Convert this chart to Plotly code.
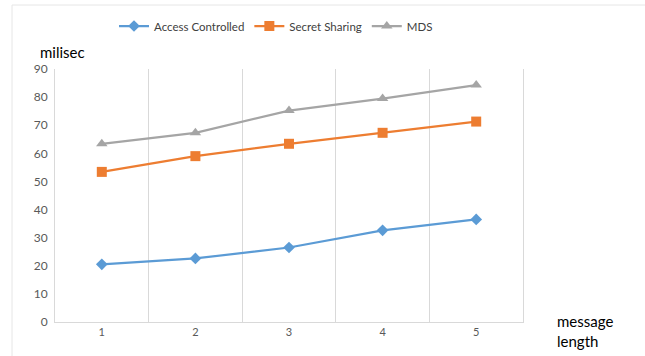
import plotly.graph_objects as go

# message length categories and timing (milliseconds) per scheme
message_length = [1, 2, 3, 4, 5]
access_controlled = [20.5, 22.6, 26.5, 32.6, 36.5]
secret_sharing = [53.4, 59.0, 63.4, 67.3, 71.3]
mds = [63.4, 67.3, 75.2, 79.5, 84.3]

y_ticks = [0, 10, 20, 30, 40, 50, 60, 70, 80, 90]

FONT = "Lato, 'Open Sans', sans-serif"
GRID = "#d9d9d9"
TICK = "#595959"

fig = go.Figure()
series = [
    ("Access Controlled", access_controlled, "#5B9BD5", "diamond", 9),
    ("Secret Sharing", secret_sharing, "#ED7D31", "square", 10),
    ("MDS", mds, "#A5A5A5", "triangle-up", 10),
]
for name, vals, color, sym, size in series:
    fig.add_trace(go.Scatter(
        x=message_length, y=vals, name=name, mode="lines+markers",
        line=dict(color=color, width=2.25),
        marker=dict(symbol=sym, size=size, color=color),
    ))

# plot area spans x 55..523 px, y 69..322 px
L, R, T, B = 55, 523, 69, 322
W, H = 645, 356


def px(x):
    return (x - L) / (R - L)


def py(y):
    return (B - y) / (B - T)


fig.update_layout(
    width=W, height=H,
    margin=dict(l=L, r=W - R, t=T, b=H - B),
    paper_bgcolor="white", plot_bgcolor="white",
    font=dict(family=FONT, color=TICK, size=12),
    showlegend=True,
    legend=dict(
        orientation="h", x=px(276), xanchor="center", y=py(26), yanchor="middle",
        font=dict(family=FONT, size=11.5, color="#404040"),
        itemwidth=30, tracegroupgap=0,
    ),
    xaxis=dict(
        range=[0.5, 5.5], tickvals=message_length,
        ticktext=[str(v) for v in message_length],
        showgrid=False, zeroline=False,
        showline=True, linecolor=GRID, linewidth=1,
        ticks="", tickfont=dict(size=11, color=TICK),
        minor=dict(tick0=0.5, dtick=1, showgrid=True, gridcolor=GRID, gridwidth=1),
        fixedrange=True,
    ),
    yaxis=dict(
        range=[0, 90], tickvals=y_ticks, showgrid=False, zeroline=False,
        showline=True, linecolor=GRID, linewidth=1, mirror=True,
        ticks="", tickfont=dict(size=12, color=TICK), ticklabelstandoff=4,
        fixedrange=True,
    ),
    annotations=[
        dict(text="milisec", xref="paper", yref="paper", x=px(38), y=py(52),
             xanchor="left", yanchor="middle", showarrow=False,
             font=dict(family=FONT, size=15, color="#000000")),
        dict(text="message<br>length", xref="paper", yref="paper", x=px(555), y=py(331),
             xanchor="left", yanchor="middle", showarrow=False, align="left",
             font=dict(family=FONT, size=15, color="#000000")),
    ],
    shapes=[
        # chart frame: left and top edges
        dict(type="line", xref="paper", yref="paper", x0=px(12), x1=px(12),
             y0=py(5), y1=py(358), line=dict(color="#e6e6e6", width=1)),
        dict(type="line", xref="paper", yref="paper", x0=px(12), x1=px(646),
             y0=py(5), y1=py(5), line=dict(color="#e6e6e6", width=1)),
    ],
)

fig.write_html("out.html", config={"displayModeBar": False})
